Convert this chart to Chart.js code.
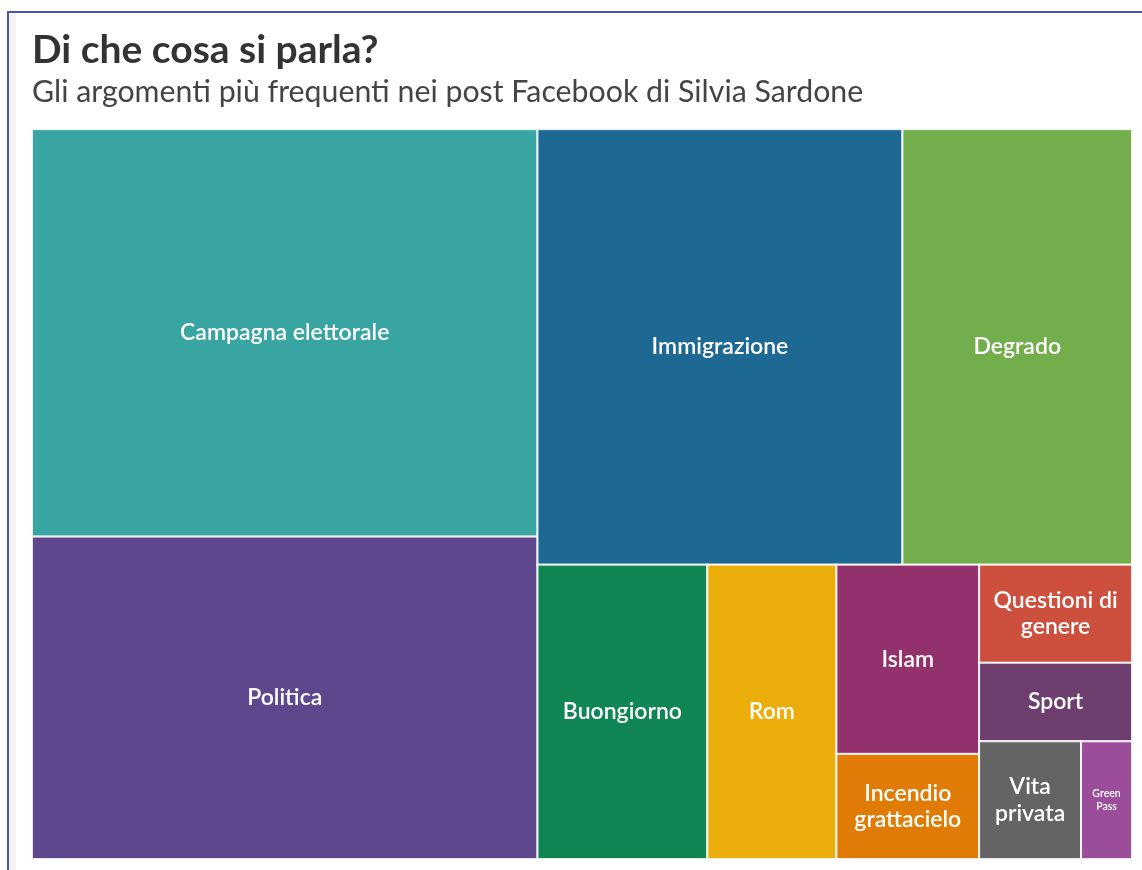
<!DOCTYPE html>
<html lang="it">
  <head>
    <meta charset="UTF-8" />
    <title>Di che cosa si parla?</title>
    <script src="https://cdn.jsdelivr.net/npm/chart.js@4"></script>
    <style>
      body { margin: 0; background: #fff; }
      #frame {
        position: absolute; left: 7px; top: 11px; width: 1135px; height: 859px;
        border-left: 2px solid #4b55a5; border-top: 2px solid #4b55a5;
      }
      #strip { position: absolute; left: 9px; top: 13px; width: 7px; height: 857px; background: #f4f4f6; }
      #wrap { position: absolute; left: 0; top: 0; width: 1142px; height: 870px; }
    </style>
  </head>
  <body>
    <div id="frame"></div>
    <div id="strip"></div>
    <div id="wrap"><canvas id="treemap"></canvas></div>

    <script>
      // numero di post per argomento (stimato dalle aree)
      const topics = [
        "Campagna elettorale", "Politica", "Immigrazione", "Degrado",
        "Buongiorno", "Rom", "Islam", "Incendio grattacielo",
        "Questioni di genere", "Sport", "Vita privata", "Green Pass"
      ];
      const posts = [206, 163, 159, 100, 50, 38, 27, 15, 15, 12, 12, 6];
      const colors = [
        "#39a5a3", "#5f478e", "#1e6894", "#72ae4b",
        "#118655", "#ecae0b", "#92316c", "#e07c06",
        "#cc503d", "#6e3e6e", "#646464", "#9a4e99"
      ];

      const FONT = "'Source Sans Pro', Lato, 'Noto Sans', sans-serif";

      // binary treemap (same split rule as d3.treemapBinary)
      function binaryLayout(nodes, x0, y0, x1, y1) {
        const sums = [0];
        nodes.forEach((n, i) => sums.push(sums[i] + n.value));
        function part(i, j, value, x0, y0, x1, y1) {
          if (i >= j - 1) {
            Object.assign(nodes[i], { x0, y0, x1, y1 });
            return;
          }
          const off = sums[i], target = value / 2 + off;
          let k = i + 1, hi = j - 1;
          while (k < hi) {
            const mid = (k + hi) >>> 1;
            if (sums[mid] < target) k = mid + 1; else hi = mid;
          }
          if (target - sums[k - 1] < sums[k] - target && i + 1 < k) --k;
          const left = sums[k] - off, right = value - left;
          if (x1 - x0 > y1 - y0) {
            const xk = (x0 * right + x1 * left) / value;
            part(i, k, left, x0, y0, xk, y1);
            part(k, j, right, xk, y0, x1, y1);
          } else {
            const yk = (y0 * right + y1 * left) / value;
            part(i, k, left, x0, y0, x1, yk);
            part(k, j, right, x0, yk, x1, y1);
          }
        }
        part(0, nodes.length, sums[nodes.length], x0, y0, x1, y1);
        return nodes;
      }

      function wrapLines(ctx, text, maxW) {
        const words = text.split(" ");
        const lines = [];
        let cur = "";
        words.forEach((w) => {
          const t = cur ? cur + " " + w : w;
          if (cur && ctx.measureText(t).width > maxW) { lines.push(cur); cur = w; }
          else cur = t;
        });
        if (cur) lines.push(cur);
        return lines;
      }

      const treemapPlugin = {
        id: "treemap",
        afterDatasetsDraw(chart) {
          const { ctx, chartArea: a, scales: { x, y } } = chart;
          const w = a.right - a.left, h = a.bottom - a.top;
          const nodes = topics
            .map((t, i) => ({ label: t, value: posts[i], color: colors[i], idx: i }))
            .sort((p, q) => q.value - p.value || p.idx - q.idx);
          binaryLayout(nodes, 0, 0, w, h);
          ctx.save();
          nodes.forEach((n) => {
            const px0 = x.getPixelForValue(n.x0 / w), px1 = x.getPixelForValue(n.x1 / w);
            const py0 = y.getPixelForValue(n.y0 / h), py1 = y.getPixelForValue(n.y1 / h);
            ctx.fillStyle = n.color;
            ctx.fillRect(px0, py0, px1 - px0, py1 - py0);
            ctx.strokeStyle = "rgba(255,255,255,0.85)";
            ctx.lineWidth = 2;
            ctx.strokeRect(px0, py0, px1 - px0, py1 - py0);

            // etichetta
            const cw = px1 - px0, ch = py1 - py0;
            const maxW = cw - 22;
            let size = 23, lines;
            for (;;) {
              ctx.font = "600 " + size + "px " + FONT;
              lines = wrapLines(ctx, n.label, maxW);
              const widest = Math.max(...lines.map((l) => ctx.measureText(l).width));
              if ((widest <= maxW && lines.length * size * 1.15 <= ch - 10) || size <= 8) break;
              size -= 0.5;
            }
            ctx.fillStyle = "#fff";
            ctx.textAlign = "center";
            ctx.textBaseline = "middle";
            const lh = size * 1.15;
            const cx = (px0 + px1) / 2, cy = (py0 + py1) / 2;
            lines.forEach((l, i) => {
              ctx.fillText(l, cx, cy + (i - (lines.length - 1) / 2) * lh);
            });
          });
          ctx.restore();
        },
      };

      new Chart(document.getElementById("treemap"), {
        type: "scatter",
        data: { datasets: [{ label: "Post", data: [] }] },
        options: {
          responsive: true,
          maintainAspectRatio: false,
          animation: false,
          layout: { padding: { left: 32, right: 10, top: 27, bottom: 11 } },
          scales: {
            x: { display: false, min: 0, max: 1 },
            y: { display: false, min: 0, max: 1, reverse: true },
          },
          plugins: {
            legend: { display: false },
            tooltip: { enabled: false },
            title: {
              display: true,
              text: "Di che cosa si parla?",
              align: "start",
              color: "#333333",
              font: { family: FONT, size: 39, weight: "bold", lineHeight: 1.2 },
              padding: { top: 0, bottom: 0 },
            },
            subtitle: {
              display: true,
              text: "Gli argomenti più frequenti nei post Facebook di Silvia Sardone",
              align: "start",
              color: "#444444",
              font: { family: FONT, size: 30.3, lineHeight: 1.2 },
              padding: { top: 0, bottom: 19 },
            },
          },
        },
        plugins: [treemapPlugin],
      });
    </script>
  </body>
</html>
